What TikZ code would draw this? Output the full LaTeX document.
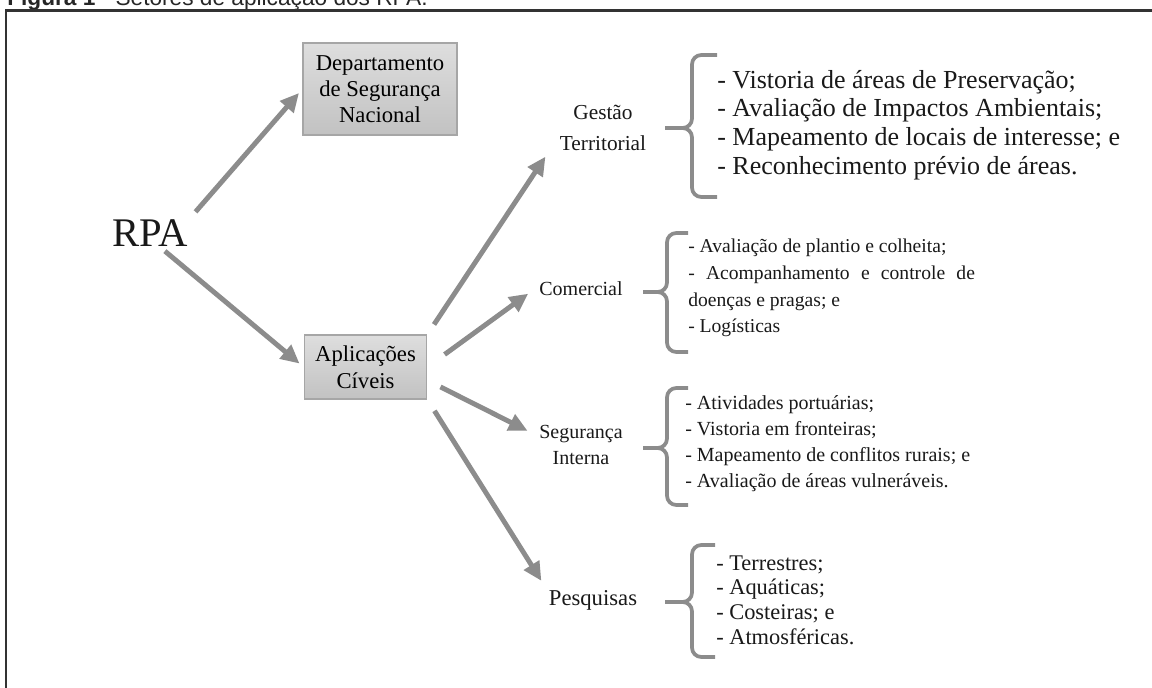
\documentclass[tikz,border=0pt]{standalone}
\usepackage{fontspec}
\setmainfont{Liberation Serif}
\newfontfamily\legfont{Liberation Sans}
\usetikzlibrary{arrows.meta}
\definecolor{setacinza}{HTML}{8C8C8C}
\definecolor{caixaborda}{HTML}{A6A6A6}
\tikzset{
  caixa/.style={draw=caixaborda, line width=0.8pt, top color=black!13, bottom color=black!24, align=center, inner sep=0pt},
  seta/.style={draw=setacinza, line width=3.7pt, -{Triangle[length=14pt,width=13pt]}},
  chave/.style={draw=setacinza, line width=2.8pt, rounded corners=7pt},
  setor/.style={align=center, text=black!90},
  lista/.style={align=left, anchor=west, inner sep=0pt, text=black!90},
}
\begin{document}
\begin{tikzpicture}[x=0.75pt, y=-0.75pt]
		\useasboundingbox (0,0) rectangle (1152,688);
		\clip (0,0) rectangle (1152,688);
		%%%%%%%%%%%%%
		\node[anchor=base west, inner sep=0pt, text=black!85, font=\legfont\fontsize{17}{20}\selectfont] (legenda) at (7,6) {\textbf{Figura 1} - Setores de aplicação dos RPA.};
		\draw[line width=1.9pt, black!80] (6,688) -- (6,10.5) -- (1152,10.5);
		%%%%%%%%%%%%%
		\node[text=black!90, font=\fontsize{30.5}{36}\selectfont] (rpa) at (150.5,233) {RPA};
		\node[caixa, minimum width=115.5pt, minimum height=69pt, font=\fontsize{17}{19.5}\selectfont] (dsn) at (380,89) {Departamento\\de Segurança\\Nacional};
		\node[caixa, minimum width=92pt, minimum height=48pt, font=\fontsize{17}{20}\selectfont] (aplic) at (365.5,367) {Aplicações\\Cíveis};
		\node[setor, font=\fontsize{16}{23}\selectfont] (gestao) at (603,128) {Gestão\\Territorial};
		\node[setor, font=\fontsize{15}{18}\selectfont] (comercial) at (581,289) {Comercial};
		\node[setor, font=\fontsize{15}{19}\selectfont] (seguranca) at (581,445) {Segurança\\Interna};
		\node[setor, font=\fontsize{17}{20}\selectfont] (pesquisas) at (593,600) {Pesquisas};
		%%%%%%%%%%%%%
		\node[lista, font=\fontsize{19.5}{21.6}\selectfont] (lgestao) at (717,125) {- Vistoria de áreas de Preservação;\\- Avaliação de Impactos Ambientais;\\- Mapeamento de locais de interesse; e\\- Reconhecimento prévio de áreas.};
		\node[lista, font=\fontsize{14.7}{20}\selectfont] (lcomercial) at (688,288) {- Avaliação de plantio e colheita;\\\hbox to 215pt{-\hfill Acompanhamento\hfill e\hfill controle\hfill de}\\doenças e pragas; e\\- Logísticas};
		\node[lista, font=\fontsize{15}{19.5}\selectfont] (lseguranca) at (685,444) {- Atividades portuárias;\\- Vistoria em fronteiras;\\- Mapeamento de conflitos rurais; e\\- Avaliação de áreas vulneráveis.};
		\node[lista, font=\fontsize{16.8}{18.5}\selectfont] (lpesquisas) at (716,600) {- Terrestres;\\- Aquáticas;\\- Costeiras; e\\- Atmosféricas.};
		%%%%%%%%%%%%%
		\draw[chave] (717,55) -| (692,128) -- (665,128);
		\draw[chave] (717,197) -| (692,128) -- (665,128);
		\draw[chave] (688,233) -| (667,292) -- (643,292);
		\draw[chave] (688,352) -| (667,292) -- (643,292);
		\draw[chave] (688,388) -| (667,448) -- (643,448);
		\draw[chave] (688,505) -| (667,448) -- (643,448);
		\draw[chave] (715,545) -| (692,602) -- (665,602);
		\draw[chave] (715,657) -| (692,602) -- (665,602);
		%%%%%%%%%%%%%
		\draw[seta, shorten <=3pt, shorten >=4pt] (rpa.north east) -- (dsn.west);
		\draw[seta, shorten >=4pt] ([xshift=-21pt]rpa.south east) -- (aplic.west);
		\draw[seta, shorten <=9pt, shorten >=6pt] (aplic.north east) -- ([xshift=-4pt,yshift=4pt]gestao.south west);
		\draw[seta, shorten <=16pt, shorten >=6pt] (aplic.east) -- (comercial.west);
		\draw[seta, shorten <=11pt, shorten >=6pt] ([yshift=-10pt]aplic.east) -- ([yshift=8pt]seguranca.west);
		\draw[seta, shorten <=10pt, shorten >=4pt] (aplic.south east) -- (pesquisas.north west);
		%%%%%%%%%%%%%%
	\end{tikzpicture}
\end{document}
